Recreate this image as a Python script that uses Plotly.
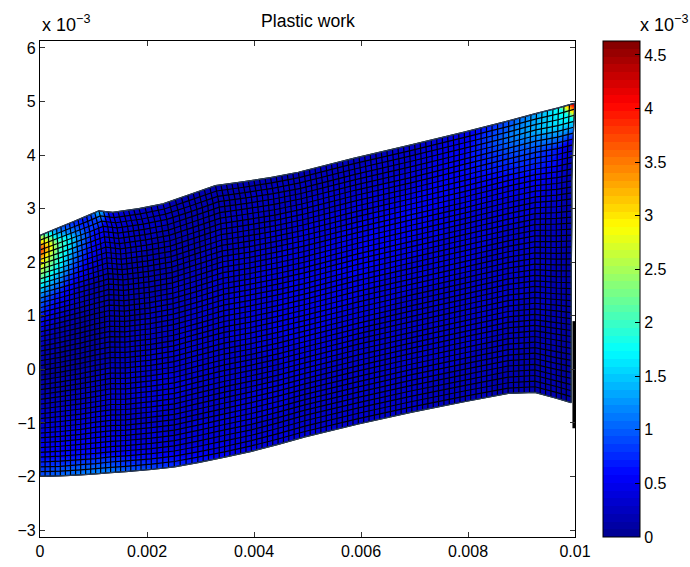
import plotly.graph_objects as go

# Node indices of the deformed mesh (a: along the strip, b: through the thickness)
col_index = [0, 4, 8, 11, 14, 17, 22, 26, 30, 35, 40, 45, 50, 60, 70, 80, 88, 93, 97, 100]
row_index = [0, 2, 4, 9, 15, 22, 30, 37, 43, 47, 50]

# Node x positions, units of 1e-3, one list per row (bottom to top)
node_x = [
    [0, .38, .76, 1.04, 1.32, 1.60, 2.08, 2.51, 2.95, 3.45, 3.95, 4.45, 4.95, 5.95, 6.95, 7.95, 8.75, 9.25, 9.65, 9.93],
    [0, .38, .76, 1.04, 1.32, 1.60, 2.08, 2.51, 2.95, 3.45, 3.95, 4.45, 4.95, 5.95, 6.95, 7.95, 8.75, 9.25, 9.65, 9.93],
    [0, .38, .76, 1.04, 1.32, 1.60, 2.08, 2.51, 2.95, 3.45, 3.95, 4.45, 4.95, 5.95, 6.95, 7.95, 8.75, 9.25, 9.65, 9.93],
    [0, .38, .76, 1.04, 1.32, 1.60, 2.08, 2.51, 2.95, 3.45, 3.95, 4.45, 4.95, 5.95, 6.95, 7.95, 8.75, 9.25, 9.65, 9.93],
    [0, .38, .76, 1.04, 1.32, 1.60, 2.08, 2.51, 2.95, 3.45, 3.95, 4.45, 4.95, 5.95, 6.95, 7.95, 8.75, 9.25, 9.65, 9.93],
    [0, .38, .75, 1.03, 1.31, 1.59, 2.07, 2.50, 2.94, 3.44, 3.94, 4.44, 4.94, 5.95, 6.95, 7.95, 8.75, 9.25, 9.65, 9.93],
    [0, .37, .75, 1.02, 1.30, 1.58, 2.06, 2.49, 2.93, 3.43, 3.93, 4.44, 4.94, 5.94, 6.95, 7.95, 8.75, 9.25, 9.65, 9.94],
    [0, .37, .73, 1.01, 1.28, 1.55, 2.03, 2.47, 2.91, 3.41, 3.92, 4.42, 4.93, 5.93, 6.94, 7.95, 8.75, 9.26, 9.66, 9.94],
    [0, .35, .71, .97, 1.23, 1.50, 1.99, 2.43, 2.87, 3.38, 3.89, 4.39, 4.90, 5.91, 6.93, 7.94, 8.75, 9.26, 9.67, 9.96],
    [0, .33, .68, .93, 1.18, 1.44, 1.93, 2.37, 2.83, 3.34, 3.85, 4.36, 4.87, 5.89, 6.92, 7.94, 8.76, 9.27, 9.68, 9.98],
    [0, .31, .63, .87, 1.10, 1.36, 1.85, 2.30, 2.76, 3.28, 3.79, 4.31, 4.83, 5.86, 6.90, 7.93, 8.76, 9.28, 9.69, 10.0],
]

# Node y positions, units of 1e-3
node_y = [
    [-2.00, -1.99, -1.97, -1.95, -1.93, -1.91, -1.87, -1.82, -1.74, -1.64, -1.53, -1.40, -1.26, -1.02, -.80, -.60, -.45, -.43, -.54, -.62],
    [-1.82, -1.81, -1.78, -1.76, -1.73, -1.71, -1.67, -1.62, -1.54, -1.44, -1.33, -1.20, -1.06, -.82, -.60, -.40, -.25, -.22, -.32, -.40],
    [-1.64, -1.62, -1.59, -1.57, -1.54, -1.52, -1.48, -1.43, -1.34, -1.23, -1.13, -1.00, -.86, -.62, -.40, -.20, -.04, -.01, -.11, -.17],
    [-1.19, -1.16, -1.12, -1.08, -1.05, -1.04, -.99, -.94, -.84, -.73, -.62, -.50, -.37, -.13, .10, .31, .47, .51, .44, .39],
    [-.65, -.60, -.55, -.51, -.46, -.46, -.41, -.35, -.24, -.12, -.02, .09, .22, .47, .69, .91, 1.08, 1.13, 1.09, 1.06],
    [-.02, .04, .11, .17, .22, .22, .27, .34, .46, .59, .68, .79, .91, 1.16, 1.39, 1.61, 1.79, 1.86, 1.84, 1.84],
    [.70, .78, .87, .94, 1.00, .99, 1.05, 1.13, 1.25, 1.40, 1.49, 1.59, 1.70, 1.96, 2.19, 2.42, 2.60, 2.70, 2.71, 2.73],
    [1.33, 1.43, 1.53, 1.61, 1.69, 1.67, 1.73, 1.81, 1.95, 2.11, 2.19, 2.29, 2.40, 2.65, 2.89, 3.12, 3.32, 3.43, 3.47, 3.52],
    [1.87, 1.98, 2.10, 2.19, 2.28, 2.25, 2.32, 2.40, 2.55, 2.72, 2.80, 2.88, 2.99, 3.25, 3.48, 3.73, 3.93, 4.05, 4.12, 4.19],
    [2.23, 2.35, 2.48, 2.57, 2.67, 2.64, 2.71, 2.80, 2.95, 3.13, 3.20, 3.28, 3.38, 3.64, 3.88, 4.13, 4.33, 4.47, 4.55, 4.63],
    [2.50, 2.63, 2.76, 2.86, 2.96, 2.93, 3.00, 3.09, 3.25, 3.43, 3.50, 3.58, 3.68, 3.94, 4.18, 4.43, 4.64, 4.78, 4.88, 4.97],
]

# Plastic work at the nodes, units of 1e-3
plastic_work = [
    [.95, 1.05, 1.15, 1.2, 1.15, 1.0, .9, .8, .7, .55, .45, .42, .4, .35, .3, .25, .2, .15, .15, .1],
    [.8, .85, .9, .9, .85, .75, .65, .55, .5, .45, .4, .38, .35, .3, .3, .25, .2, .15, .15, .1],
    [.6, .6, .6, .6, .55, .5, .45, .4, .4, .4, .35, .35, .35, .3, .3, .25, .2, .15, .15, .1],
    [.45, .45, .45, .45, .4, .35, .35, .3, .35, .35, .4, .38, .35, .35, .3, .3, .25, .2, .15, .1],
    [.25, .25, .25, .3, .3, .35, .4, .4, .35, .3, .3, .35, .4, .35, .35, .3, .3, .25, .2, .1],
    [.12, .1, .12, .15, .2, .25, .3, .3, .35, .35, .4, .45, .5, .4, .35, .35, .35, .3, .2, .1],
    [.4, .2, .12, .12, .15, .2, .22, .25, .3, .35, .4, .42, .45, .55, .45, .4, .35, .3, .25, .12],
    [1.1, .7, .35, .2, .18, .18, .2, .2, .22, .28, .3, .35, .4, .45, .6, .45, .45, .5, .4, .15],
    [2.7, 1.8, .95, .55, .35, .25, .22, .2, .2, .22, .25, .28, .3, .35, .4, .6, .8, .85, .7, .25],
    [3.9, 2.2, 1.3, .8, .55, .35, .25, .22, .2, .2, .22, .24, .25, .3, .35, .55, 1.1, 1.4, 1.6, 1.6],
    [2.4, 1.0, .7, .7, 1.5, .4, .25, .22, .2, .2, .2, .2, .2, .25, .3, .45, .9, 1.3, 1.8, 4.63],
]

z_max = 4.63
n_levels = 64
jet = [[0, "#00008F"], [.125, "#0000FF"], [.375, "#00FFFF"], [.625, "#FFFF00"], [.875, "#FF0000"], [1, "#800000"]]

x_ticks = [0, 2, 4, 6, 8, 10]
x_labels = ["0", "0.002", "0.004", "0.006", "0.008", "0.01"]
y_ticks = [-3, -2, -1, 0, 1, 2, 3, 4, 5, 6]
y_labels = ["\u22123", "\u22122", "\u22121", "0", "1", "2", "3", "4", "5", "6"]
cb_ticks = [0, .5, 1, 1.5, 2, 2.5, 3, 3.5, 4, 4.5]
cb_labels = ["0", "0.5", "1", "1.5", "2", "2.5", "3", "3.5", "4", "4.5"]

# Collapsed last column of the mesh along the right edge
edge_x = [9.98, 9.98]
edge_y = [-1.1, 0.9]

FONT = "Liberation Sans"

fig = go.Figure()
mesh_axis = dict(
    tickmode="linear", tick0=0, dtick=1, smoothing=0, showticklabels="none",
    gridcolor="black", gridwidth=1.2, minorgridcount=0,
    linecolor="black", linewidth=1, startline=True, endline=True,
)
fig.add_trace(go.Carpet(carpet="mesh", a=col_index, b=row_index, x=node_x, y=node_y,
                        aaxis=mesh_axis, baxis=mesh_axis))
fig.add_trace(go.Contourcarpet(
    carpet="mesh", a=col_index, b=row_index, z=plastic_work,
    autocontour=False, zmin=0, zmax=z_max,
    contours=dict(start=0, end=z_max, size=z_max / n_levels, coloring="fill", showlines=False),
    line=dict(width=0), colorscale=jet,
    colorbar=dict(
        x=(603 - 40) / 535, xanchor="left", xpad=0, ypad=0, thickness=37, thicknessmode="pixels",
        len=1, lenmode="fraction", y=0.5, yanchor="middle",
        outlinecolor="black", outlinewidth=1,
        tickmode="array", tickvals=cb_ticks, ticktext=cb_labels,
        ticks="inside", ticklen=5, tickcolor="black",
        tickfont=dict(family=FONT, size=16, color="black"),
    ),
))
fig.add_trace(go.Scatter(x=edge_x, y=edge_y, mode="lines", line=dict(color="black", width=3),
                         showlegend=False, hoverinfo="skip"))

axis = dict(showgrid=False, zeroline=False, showline=True, mirror="ticks", linecolor="black",
            linewidth=1.2, ticks="inside", ticklen=5, tickcolor="#333333", automargin=False,
            tickfont=dict(family=FONT, size=16, color="black"))
fig.update_layout(
    width=690, height=567, margin=dict(l=40, r=115, t=41, b=30, pad=0),
    plot_bgcolor="white", paper_bgcolor="white", showlegend=False,
    xaxis=dict(range=[0, 10], tickmode="array", tickvals=x_ticks, ticktext=x_labels, **axis),
    yaxis=dict(range=[-3.13, 6.13], tickmode="array", tickvals=y_ticks, ticktext=y_labels, **axis),
    font=dict(family=FONT, color="black"),
    annotations=[
        dict(text="Plastic work", xref="paper", yref="paper", x=0.5, y=1, yshift=8, xanchor="center",
             yanchor="bottom", showarrow=False, font=dict(family=FONT, size=17.6)),
        dict(text="x 10<sup>\u22123</sup>", xref="paper", yref="paper", x=0, y=1, yshift=4, xanchor="left",
             yanchor="bottom", showarrow=False, font=dict(family=FONT, size=18)),
        dict(text="x 10<sup>\u22123</sup>", xref="paper", yref="paper", x=(638 - 40) / 535, y=1, yshift=4, xanchor="left",
             yanchor="bottom", showarrow=False, font=dict(family=FONT, size=18)),
    ],
)
fig.write_html("out.html", config=dict(displayModeBar=False), post_script="document.body.style.margin='0';")
